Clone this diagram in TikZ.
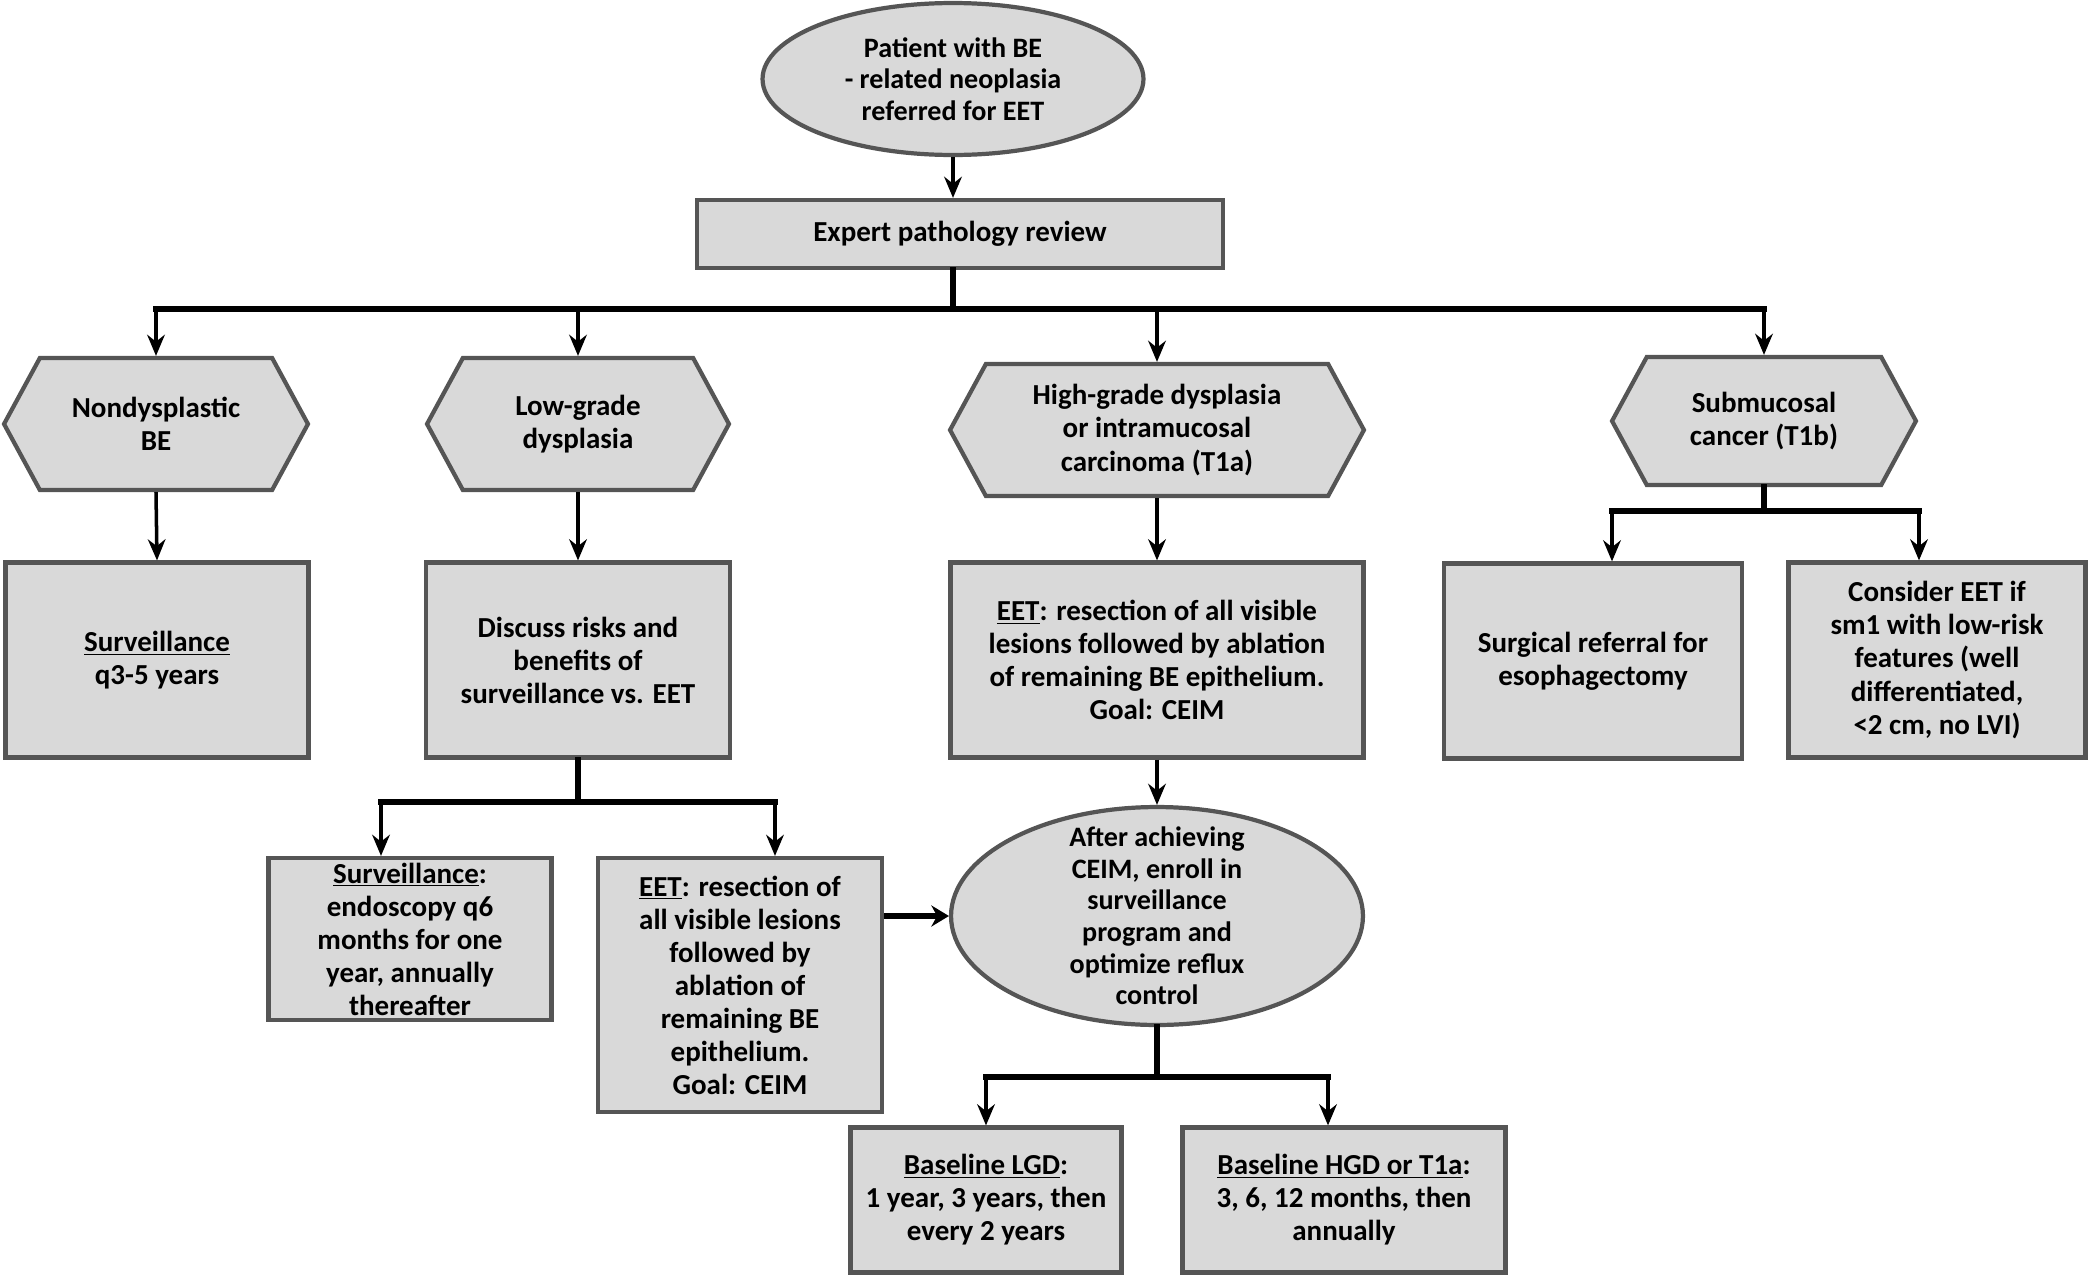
\documentclass[tikz,border=0pt]{standalone}
\usepackage{fontspec}
\setmainfont{Carlito}
\usetikzlibrary{shapes.geometric,shapes.symbols,arrows.meta}
\definecolor{edgegray}{HTML}{555555}
\definecolor{fillgray}{HTML}{D9D9D9}
\tikzset{
  box/.style={draw=edgegray,fill=fillgray,line width=2.4pt,align=center,inner sep=2pt,
    font=\bfseries\fontsize{16.5}{18.8}\selectfont},
  hexa/.style={box,shape=signal,signal to=west and east,signal pointer angle=123},
  oval/.style={box,ellipse,inner sep=0pt},
  txt/.style={align=center,font=\bfseries\fontsize{16}{18}\selectfont},
  bus/.style={line width=3.2pt,line cap=rect},
  arr/.style={-{Stealth[length=12pt,width=10pt]},line width=2pt},
}
\begin{document}
\begin{tikzpicture}[x=0.02cm,y=-0.02cm]
\useasboundingbox (0,0) rectangle (2090,1278);
% referral and review
\node[oval,minimum width=7.62cm,minimum height=3.04cm,font=\bfseries\fontsize{16}{18}\selectfont] (patient) at (953,79) {Patient with BE\\- related neoplasia\\referred for EET};
\node[box,minimum width=10.52cm,minimum height=1.36cm] (review) at (960,234) {Expert pathology review};
\draw[arr] (patient.south) -- (patient.south |- review.north);
% pathology result
\node[hexa,minimum width=6.08cm,minimum height=2.64cm] (nondys) at (156,424) {Nondysplastic\\BE};
\node[hexa,minimum width=6.04cm,minimum height=2.64cm] (lowgr) at (578,424) {Low-grade\\dysplasia};
\node[hexa,minimum width=8.28cm,minimum height=2.64cm] (hgd) at (1157,430) {High-grade dysplasia\\or intramucosal\\carcinoma (T1a)};
\node[hexa,minimum width=6.08cm,minimum height=2.56cm] (submuc) at (1764,421) {Submucosal\\cancer (T1b)};
\coordinate (j0) at (953,309);
\draw[bus] (review.south -| j0) -- (j0);
\draw[bus] (nondys.north |- j0) -- (submuc.north |- j0);
\foreach \n in {nondys,lowgr,hgd,submuc} \draw[arr] (\n.north |- j0) -- (\n.north);
% management
\node[box,minimum width=6.06cm,minimum height=3.9cm] (surv) at (157,660) {\underline{Surveillance}\\q3-5 years};
\node[box,minimum width=6.08cm,minimum height=3.9cm] (discuss) at (578,660) {Discuss risks and\\benefits of\\surveillance vs. EET};
\node[box,minimum width=8.26cm,minimum height=3.9cm] (eet) at (1157,660) {\underline{EET}: resection of all visible\\lesions followed by ablation\\of remaining BE epithelium.\\Goal: CEIM};
\node[box,minimum width=5.96cm,minimum height=3.9cm] (surgery) at (1593,661) {Surgical referral for\\esophagectomy};
\node[box,minimum width=5.94cm,minimum height=3.9cm] (consider) at (1937,660) {Consider EET if\\sm1 with low-risk\\features (well\\differentiated,\\<2 cm, no LVI)};
\draw[arr] (nondys.south) -- (surv.north);
\draw[arr] (lowgr.south) -- (discuss.north);
\draw[arr] (hgd.south) -- (eet.north);
\coordinate (j1) at (1764,511);
\draw[bus] (submuc.south) -- (j1);
\draw[bus] ([xshift=0.38cm]surgery.north |- j1) -- ([xshift=-0.36cm]consider.north |- j1);
\draw[arr] ([xshift=0.38cm]surgery.north |- j1) -- ([xshift=0.38cm]surgery.north);
\draw[arr] ([xshift=-0.36cm]consider.north |- j1) -- ([xshift=-0.36cm]consider.north);
% low-grade options
\node[box,minimum width=5.66cm,minimum height=3.24cm] (surv2) at (410,939) {\underline{Surveillance}:\\endoscopy q6\\months for one\\year, annually\\thereafter};
\node[box,minimum width=5.68cm,minimum height=5.08cm] (eet2) at (740,985) {\underline{EET}: resection of\\all visible lesions\\followed by\\ablation of\\remaining BE\\epithelium.\\Goal: CEIM};
\coordinate (j2) at (578,802);
\draw[bus] (discuss.south) -- (j2);
\draw[bus] ([xshift=-0.58cm]surv2.north |- j2) -- ([xshift=0.7cm]eet2.north |- j2);
\draw[arr] ([xshift=-0.58cm]surv2.north |- j2) -- ([xshift=-0.58cm]surv2.north);
\draw[arr] ([xshift=0.7cm]eet2.north |- j2) -- ([xshift=0.7cm]eet2.north);
% after CEIM
\node[oval,minimum width=8.24cm,minimum height=4.36cm] (ceim) at (1157,916) {};
\node[txt] (ceimtxt) at (ceim) {After achieving\\CEIM, enroll in\\surveillance\\program and\\optimize reflux\\control};
\draw[arr] (eet.south) -- (ceim.north);
\draw[-{Stealth[length=10pt,width=12pt]},line width=3.2pt] (eet2.east |- ceim.west) -- (ceim.west);
\node[box,minimum width=5.42cm,minimum height=2.9cm] (lgd) at (986,1200) {\underline{Baseline LGD}:\\1 year, 3 years, then\\every 2 years};
\node[box,minimum width=6.46cm,minimum height=2.9cm] (hgdb) at (1344,1200) {\underline{Baseline HGD or T1a}:\\3, 6, 12 months, then\\annually};
\coordinate (j3) at (1157,1077);
\draw[bus] (ceim.south) -- (j3);
\draw[bus] (lgd.north |- j3) -- ([xshift=-0.32cm]hgdb.north |- j3);
\draw[arr] (lgd.north |- j3) -- (lgd.north);
\draw[arr] ([xshift=-0.32cm]hgdb.north |- j3) -- ([xshift=-0.32cm]hgdb.north);
\end{tikzpicture}
\end{document}
